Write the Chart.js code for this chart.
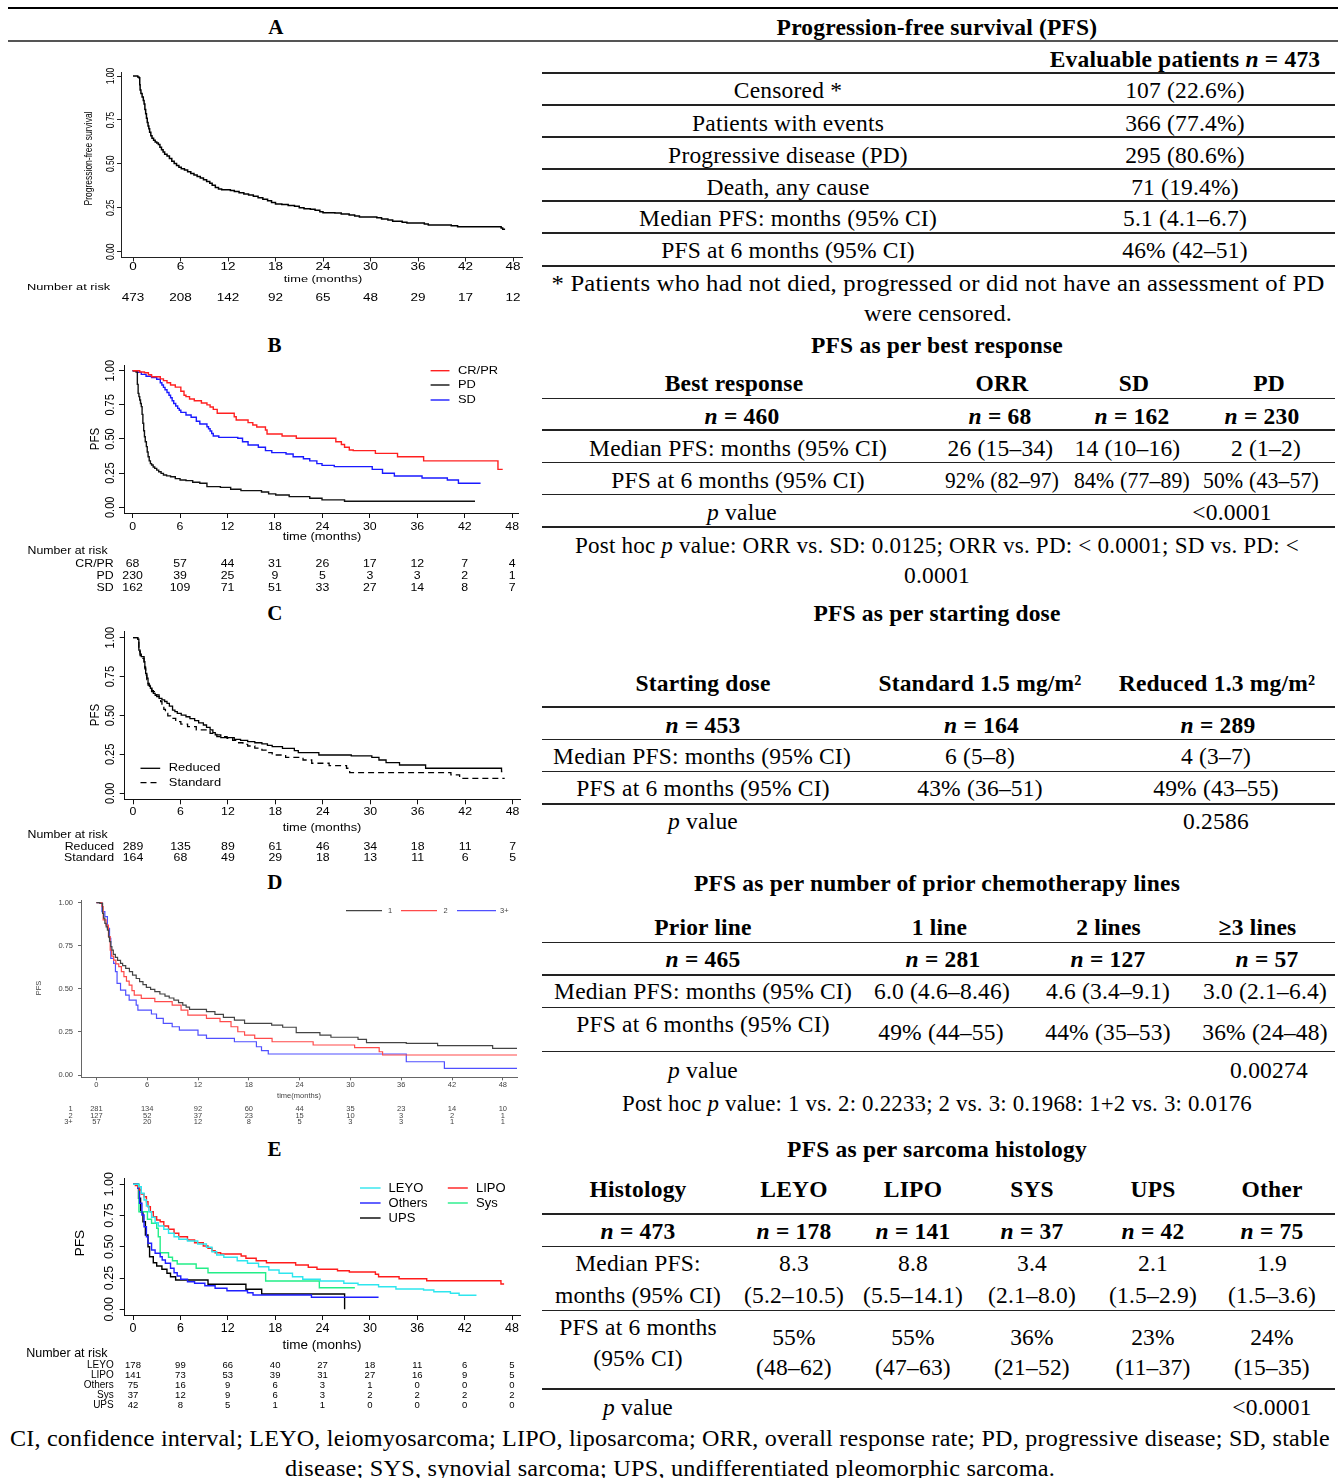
<!DOCTYPE html>
<html><head><meta charset="utf-8"><title>PFS</title>
<script src="https://cdn.jsdelivr.net/npm/chart.js@4.4.1/dist/chart.umd.min.js"></script>
<style>
html,body{margin:0;padding:0;background:#fff}
#page{position:relative;width:1338px;height:1478px;overflow:hidden;font-family:"Liberation Serif","Times New Roman",serif;color:#000}
.tx{position:absolute;white-space:nowrap;font-size:23.5px;line-height:30px;height:30px;letter-spacing:0.2px;transform:translateX(-50%)}
.tx.b{font-weight:bold}
.ln{position:absolute;background:#222}
canvas{position:absolute;left:0}
</style></head><body><div id="page"></div><script>
// ---------- shared ticks ----------
const months = [0,6,12,18,24,30,36,42,48];
const survTicks = [0,0.25,0.5,0.75,1];

// ---------- A: overall PFS ----------
const aCurve = [[0,1],[0.6,0.995],[0.75,0.99],[0.85,0.95],[0.9,0.92],[1.0,0.9],[1.15,0.88],[1.3,0.86],[1.4,0.84],[1.5,0.81],[1.6,0.785],[1.7,0.76],[1.8,0.735],[1.9,0.715],[2.0,0.7],[2.1,0.68],[2.25,0.66],[2.4,0.645],[2.6,0.635],[2.8,0.625],[3.0,0.618],[3.2,0.61],[3.4,0.595],[3.6,0.58],[3.8,0.568],[4.0,0.555],[4.3,0.545],[4.6,0.53],[4.9,0.515],[5.2,0.502],[5.5,0.49],[5.8,0.48],[6.1,0.472],[6.5,0.465],[6.9,0.455],[7.3,0.445],[7.7,0.437],[8.1,0.428],[8.5,0.42],[8.9,0.41],[9.3,0.4],[9.7,0.39],[10.0,0.378],[10.4,0.366],[10.8,0.357],[11.2,0.352],[12.3,0.348],[12.8,0.342],[13.4,0.335],[14.0,0.328],[14.6,0.322],[15.2,0.315],[15.8,0.307],[16.4,0.298],[17.0,0.29],[17.5,0.28],[18.0,0.272],[18.8,0.268],[19.6,0.263],[20.4,0.258],[21.0,0.25],[21.6,0.245],[22.4,0.241],[23.0,0.236],[23.6,0.228],[24.0,0.222],[25.5,0.22],[26.3,0.214],[27.3,0.209],[28.0,0.203],[28.6,0.198],[30.8,0.193],[31.4,0.186],[32.2,0.18],[32.8,0.174],[34.0,0.168],[34.6,0.164],[36.8,0.158],[37.3,0.152],[40.2,0.148],[41.0,0.142],[46.5,0.135],[46.7,0.128],[47.0,0.128]];
const aRisk = [473,208,142,92,65,48,29,17,12];

// ---------- B: best response ----------
const bCrpr = [[0,1],[0.9,0.99],[1.5,0.985],[2.0,0.97],[2.4,0.956],[3.5,0.94],[3.9,0.927],[4.35,0.912],[4.8,0.895],[5.4,0.88],[6.1,0.85],[6.5,0.82],[6.75,0.81],[7.2,0.793],[7.8,0.78],[8.7,0.763],[9.4,0.75],[9.8,0.734],[10.2,0.717],[10.7,0.688],[12.85,0.663],[13.1,0.639],[14.6,0.62],[15.2,0.602],[15.7,0.588],[16.8,0.566],[17.0,0.537],[18.9,0.522],[20.7,0.505],[25.7,0.48],[26.4,0.46],[26.8,0.44],[27.4,0.42],[27.9,0.415],[30.7,0.395],[33.5,0.37],[36.8,0.34],[46.2,0.278],[46.8,0.278]];
const bPd = [[0,1],[0.44,0.99],[0.6,0.9],[0.7,0.834],[0.8,0.81],[0.9,0.785],[1.0,0.76],[1.1,0.737],[1.2,0.68],[1.3,0.615],[1.4,0.56],[1.5,0.517],[1.6,0.48],[1.74,0.444],[1.85,0.405],[1.96,0.37],[2.1,0.34],[2.25,0.32],[2.4,0.31],[2.6,0.295],[2.8,0.285],[3.05,0.272],[3.3,0.26],[3.6,0.248],[3.9,0.237],[4.3,0.23],[4.8,0.224],[5.4,0.21],[6.0,0.2],[6.75,0.195],[7.6,0.183],[8.5,0.176],[9.4,0.151],[11.1,0.146],[12.4,0.132],[13.7,0.122],[16.3,0.112],[17.2,0.098],[18.1,0.09],[19.8,0.078],[22.4,0.066],[23.95,0.054],[26.8,0.044],[43.3,0.044]];
const bSd = [[0,1],[0.65,0.988],[1.1,0.973],[1.7,0.959],[2.4,0.95],[3.05,0.937],[3.5,0.912],[3.7,0.895],[3.9,0.878],[4.1,0.86],[4.35,0.84],[4.6,0.82],[4.8,0.802],[5.0,0.78],[5.2,0.76],[5.45,0.742],[5.7,0.724],[5.9,0.71],[6.1,0.695],[6.75,0.676],[7.4,0.659],[8.06,0.63],[8.5,0.61],[9.4,0.59],[9.6,0.575],[9.8,0.559],[10.0,0.54],[10.2,0.522],[10.9,0.512],[13.3,0.505],[13.9,0.48],[14.6,0.456],[15.9,0.44],[16.8,0.415],[17.6,0.4],[19.4,0.39],[20.3,0.37],[21.6,0.355],[22.4,0.34],[23.3,0.32],[23.95,0.307],[25.5,0.298],[30.3,0.278],[31.6,0.249],[33.1,0.229],[36.6,0.215],[39.8,0.2],[41.2,0.176],[44.0,0.176]];
const bRiskCrpr = [68,57,44,31,26,17,12,7,4];
const bRiskPd = [230,39,25,9,5,3,3,2,1];
const bRiskSd = [162,109,71,51,33,27,14,8,7];

// ---------- C: starting dose ----------
const cReduced = [[0,1],[0.6,0.99],[0.74,0.92],[0.9,0.895],[1.05,0.878],[1.4,0.846],[1.5,0.81],[1.6,0.77],[1.75,0.74],[1.9,0.707],[2.05,0.69],[2.2,0.675],[2.4,0.66],[2.57,0.642],[2.8,0.63],[3.0,0.621],[3.3,0.61],[3.66,0.6],[4.0,0.59],[4.3,0.578],[4.6,0.56],[5.0,0.535],[5.3,0.525],[5.6,0.514],[6.1,0.503],[6.7,0.492],[7.2,0.48],[7.8,0.467],[8.3,0.453],[8.9,0.439],[9.3,0.424],[9.75,0.407],[10.1,0.39],[10.4,0.375],[11.1,0.358],[12.8,0.347],[13.6,0.34],[14.5,0.332],[15.4,0.325],[16.3,0.317],[17.0,0.308],[17.6,0.3],[18.9,0.289],[20.4,0.274],[20.9,0.261],[23.5,0.246],[27.6,0.24],[30.2,0.231],[31.1,0.214],[32.0,0.197],[33.7,0.182],[37.0,0.161],[46.6,0.14],[46.7,0.14]];
const cStandard = [[0,1],[0.6,0.99],[0.74,0.91],[0.9,0.885],[1.05,0.867],[1.4,0.835],[1.5,0.8],[1.6,0.76],[1.75,0.73],[1.9,0.696],[2.1,0.675],[2.35,0.653],[2.7,0.64],[3.0,0.632],[3.3,0.621],[3.5,0.59],[3.66,0.567],[3.9,0.54],[4.1,0.514],[4.4,0.498],[4.75,0.482],[5.4,0.46],[6.05,0.445],[6.9,0.428],[8.0,0.407],[9.75,0.385],[10.6,0.364],[11.9,0.353],[12.6,0.34],[13.2,0.325],[13.9,0.315],[14.5,0.304],[15.4,0.29],[16.3,0.278],[17.0,0.262],[17.6,0.246],[19.3,0.231],[21.5,0.214],[22.6,0.193],[24.8,0.178],[27.0,0.161],[27.4,0.133],[40.2,0.118],[41.3,0.096],[47.0,0.096]];
const cRiskReduced = [289,135,89,61,46,34,18,11,7];
const cRiskStandard = [164,68,49,29,18,13,11,6,5];

// ---------- D: prior lines ----------
const dLine1 = [[0,1],[0.4,0.996],[0.73,0.938],[0.85,0.91],[1.0,0.88],[1.15,0.86],[1.3,0.841],[1.45,0.8],[1.55,0.774],[1.7,0.745],[1.83,0.725],[2.0,0.7],[2.24,0.683],[2.5,0.665],[2.85,0.648],[3.1,0.635],[3.46,0.619],[3.9,0.6],[4.27,0.58],[4.7,0.56],[5.1,0.542],[5.5,0.525],[5.9,0.509],[6.4,0.497],[6.9,0.484],[7.5,0.47],[8.1,0.458],[8.6,0.447],[9.15,0.435],[9.7,0.42],[10.2,0.406],[10.6,0.394],[11.0,0.381],[13.0,0.368],[14.0,0.352],[15.0,0.335],[16.3,0.319],[17.5,0.3],[20.7,0.29],[22.0,0.277],[23.6,0.246],[26.4,0.232],[27.7,0.219],[30.9,0.207],[31.9,0.188],[36.6,0.184],[40.3,0.17],[46.8,0.155],[49.7,0.155]];
const dLine2 = [[0,1],[0.65,0.977],[0.8,0.9],[1.14,0.87],[1.42,0.803],[1.63,0.725],[1.8,0.69],[2.03,0.667],[2.3,0.645],[2.64,0.629],[2.95,0.6],[3.25,0.571],[3.55,0.545],[3.87,0.522],[4.2,0.49],[4.47,0.464],[5.3,0.445],[6.9,0.426],[8.95,0.406],[10.0,0.377],[10.8,0.348],[13.0,0.329],[14.6,0.31],[15.9,0.28],[16.7,0.251],[17.5,0.232],[18.7,0.213],[20.75,0.193],[25.6,0.174],[30.5,0.159],[33.4,0.135],[33.8,0.116],[49.7,0.116]];
const dLine3 = [[0,1],[0.65,0.948],[1.0,0.919],[1.3,0.851],[1.55,0.793],[1.7,0.677],[2.03,0.648],[2.25,0.6],[2.44,0.532],[2.85,0.493],[3.46,0.464],[3.87,0.435],[4.7,0.406],[4.9,0.377],[6.5,0.354],[7.1,0.329],[7.9,0.3],[8.95,0.28],[9.8,0.261],[12.0,0.232],[13.0,0.213],[16.3,0.193],[18.9,0.164],[19.5,0.141],[20.3,0.122],[36.6,0.077],[41.1,0.039],[49.7,0.039]];
const dRisk1 = [281,134,92,60,44,35,23,14,10];
const dRisk2 = [127,52,37,23,15,10,3,2,1];
const dRisk3 = [57,20,12,8,5,3,3,1,1];

// ---------- E: histology ----------
const eLeyo = [[0,1],[0.7,0.98],[1.05,0.928],[1.4,0.875],[1.7,0.827],[2.0,0.781],[2.35,0.736],[2.8,0.693],[3.2,0.667],[3.9,0.64],[4.5,0.608],[5.2,0.581],[5.8,0.56],[6.9,0.547],[8.2,0.523],[9.3,0.496],[10.0,0.461],[10.6,0.435],[11.5,0.416],[13.2,0.389],[14.5,0.368],[15.9,0.341],[17.2,0.315],[18.5,0.288],[20.2,0.261],[21.5,0.24],[23.7,0.227],[26.7,0.208],[28.5,0.197],[31.1,0.181],[33.3,0.163],[36.8,0.155],[38.1,0.141],[40.2,0.128],[41.3,0.112],[43.5,0.112]];
const eLipo = [[0,1],[0.3,0.99],[0.6,0.98],[0.83,0.955],[1.05,0.923],[1.4,0.9],[1.7,0.861],[1.9,0.821],[2.2,0.78],[2.57,0.741],[3.0,0.715],[3.44,0.701],[3.9,0.667],[4.5,0.64],[5.2,0.608],[5.8,0.581],[6.9,0.555],[7.8,0.533],[8.9,0.507],[9.5,0.488],[10.0,0.469],[10.4,0.453],[11.1,0.443],[13.7,0.427],[14.3,0.408],[15.6,0.389],[16.9,0.373],[20.6,0.355],[22.2,0.336],[23.3,0.32],[25.9,0.309],[27.4,0.299],[30.7,0.28],[31.1,0.261],[33.7,0.245],[37.2,0.229],[46.6,0.203],[47.0,0.203]];
const eOthers = [[0,1],[0.6,0.968],[0.83,0.848],[1.13,0.755],[1.4,0.661],[1.7,0.581],[1.9,0.528],[2.35,0.475],[2.8,0.448],[3.44,0.421],[3.7,0.395],[4.1,0.368],[4.75,0.328],[5.2,0.293],[5.6,0.267],[6.05,0.24],[6.9,0.221],[7.8,0.208],[9.1,0.189],[10.4,0.168],[11.9,0.149],[14.5,0.133],[15.2,0.115],[22.6,0.096],[31.1,0.096]];
const eSys = [[0,1],[0.75,0.781],[1.83,0.72],[2.35,0.688],[3.0,0.648],[3.2,0.581],[3.44,0.453],[4.5,0.416],[5.0,0.389],[5.6,0.363],[8.0,0.328],[9.5,0.293],[16.8,0.227],[23.6,0.173],[28.1,0.173]];
const eUps = [[0,1],[0.7,0.888],[0.96,0.781],[1.26,0.701],[1.57,0.595],[1.9,0.501],[2.1,0.421],[2.57,0.373],[3.0,0.347],[3.66,0.32],[4.3,0.288],[4.75,0.261],[5.4,0.235],[9.5,0.2],[14.3,0.16],[16.3,0.123],[26.8,0]];
const eRiskLeyo = [178,99,66,40,27,18,11,6,5];
const eRiskLipo = [141,73,53,39,31,27,16,9,5];
const eRiskOthers = [75,16,9,6,3,1,0,0,0];
const eRiskSys = [37,12,9,6,3,2,2,2,2];
const eRiskUps = [42,8,5,1,1,0,0,0,0];

// ---------- page helpers ----------
const page = document.getElementById('page');
function T(x, y, html, bold, size, fitW) {
  const d = document.createElement('div');
  d.className = 'tx' + (bold ? ' b' : '');
  d.style.left = x + 'px'; d.style.top = (y - 15) + 'px';
  if (size) d.style.fontSize = size + 'px';
  d.innerHTML = html; page.appendChild(d);
  if (fitW) {
    const w = d.getBoundingClientRect().width;
    if (w > 0) d.style.transform = 'translateX(-50%) scaleX(' + (fitW / w).toFixed(4) + ')';
  }
}
function R(y, x1, x2, h, c) {
  const d = document.createElement('div'); d.className = 'ln';
  d.style.left = x1 + 'px'; d.style.width = (x2 - x1) + 'px';
  d.style.top = (y - h / 2) + 'px'; d.style.height = h + 'px';
  if (c) d.style.background = c;
  page.appendChild(d);
}

// ---------- tables ----------
R(8, 8, 1338, 2.6, '#000');
R(41, 8, 1338, 1.4, '#555');
T(276, 26.7, 'A', true, 21);
T(937, 26.7, 'Progression-free survival (PFS)', true);
T(1185, 58.7, 'Evaluable patients <i>n</i> = 473', true);
const tabA = [['Censored *','107 (22.6%)'],['Patients with events','366 (77.4%)'],['Progressive disease (PD)','295 (80.6%)'],['Death, any cause','71 (19.4%)'],['Median PFS: months (95% CI)','5.1 (4.1–6.7)'],['PFS at 6 months (95% CI)','46% (42–51)']];
[90,122.7,154.7,186.7,218.3,250].forEach((y,i)=>{T(788,y,tabA[i][0]);T(1185,y,tabA[i][1]);});
[73,105,137,169,201,233].forEach(y=>R(y,542,1335,1.2));
R(266,542,1335,2.2);
T(937.5, 283.3, '* Patients who had not died, progressed or did not have an assessment of PD', false, 0, 773);
T(937.5, 313.3, 'were censored.', false, 0, 148);

// B
T(274.7, 345, 'B', true, 21);
T(937, 345, 'PFS as per best response', true);
const tabB = [
  {y:383.3, b:true, c:['Best response','ORR','SD','PD'], x:[734,1002,1134,1269]},
  {y:415.5, b:true, c:['<i>n</i> = 460','<i>n</i> = 68','<i>n</i> = 162','<i>n</i> = 230'], x:[742,1000,1132,1262]},
  {y:447.5, c:['Median PFS: months (95% CI)','26 (15–34)','14 (10–16)','2 (1–2)'], x:[738,1000.5,1127.5,1266]},
  {y:479.5, c:['PFS at 6 months (95% CI)','92% (82–97)','84% (77–89)','50% (43–57)'], x:[738,1002,1132,1261], w:[0,114,116,116]},
  {y:511.5, c:['<i>p</i> value','','','&lt;0.0001'], x:[742,0,0,1232]}
];
tabB.forEach(r=>r.c.forEach((t,i)=>{ if(t) T(r.x[i], r.y, t, r.b, 0, r.w ? r.w[i] : 0); }));
[398.3,430,462.3,494.3].forEach(y=>R(y,542,1335,1.2));
R(526.7,542,1335,2.2);
T(937, 544.5, 'Post hoc <i>p</i> value: ORR vs. SD: 0.0125; ORR vs. PD: &lt; 0.0001; SD vs. PD: &lt;', false, 0, 724);
T(937, 574.5, '0.0001');

// C
T(275, 613.3, 'C', true, 21);
T(937, 613.3, 'PFS as per starting dose', true);
const tabC = [
  {y:683.3, b:true, c:['Starting dose','Standard 1.5 mg/m²','Reduced 1.3 mg/m²'], x:[703,980,1217]},
  {y:724.5, b:true, c:['<i>n</i> = 453','<i>n</i> = 164','<i>n</i> = 289'], x:[703,981.5,1218]},
  {y:756, c:['Median PFS: months (95% CI)','6 (5–8)','4 (3–7)'], x:[702,980,1216]},
  {y:788.3, c:['PFS at 6 months (95% CI)','43% (36–51)','49% (43–55)'], x:[703,980,1216]},
  {y:820.5, c:['<i>p</i> value','','0.2586'], x:[703,0,1216]}
];
tabC.forEach(r=>r.c.forEach((t,i)=>{ if(t) T(r.x[i], r.y, t, r.b); }));
[707,739.3,771.7,804].forEach(y=>R(y,542,1335,1.2));

// D
T(275, 881.7, 'D', true, 21);
T(937, 882.7, 'PFS as per number of prior chemotherapy lines', true);
const tabD = [
  {y:926.7, b:true, c:['Prior line','1 line','2 lines','≥3 lines'], x:[703,939.5,1108.5,1257.5]},
  {y:958.5, b:true, c:['<i>n</i> = 465','<i>n</i> = 281','<i>n</i> = 127','<i>n</i> = 57'], x:[703,943,1108,1267]},
  {y:990.5, c:['Median PFS: months (95% CI)','6.0 (4.6–8.46)','4.6 (3.4–9.1)','3.0 (2.1–6.4)'], x:[703,942,1108,1265]},
  {y:1024, c:['PFS at 6 months (95% CI)','','',''], x:[703,0,0,0]},
  {y:1031.7, c:['','49% (44–55)','44% (35–53)','36% (24–48)'], x:[0,941,1108,1265]},
  {y:1070, c:['<i>p</i> value','','','0.00274'], x:[703,0,0,1269]}
];
tabD.forEach(r=>r.c.forEach((t,i)=>{ if(t) T(r.x[i], r.y, t, r.b); }));
[942.7,975,1007.3,1051.7].forEach(y=>R(y,542,1335,1.2));
T(937, 1102.5, 'Post hoc <i>p</i> value: 1 vs. 2: 0.2233; 2 vs. 3: 0.1968: 1+2 vs. 3: 0.0176', false, 0, 630);

// E
T(274.5, 1149, 'E', true, 21);
T(937, 1148.5, 'PFS as per sarcoma histology', true);
const colE = [638,794,913,1032,1153,1272];
const tabE = [
  {y:1189, b:true, c:['Histology','LEYO','LIPO','SYS','UPS','Other']},
  {y:1231, b:true, c:['<i>n</i> = 473','<i>n</i> = 178','<i>n</i> = 141','<i>n</i> = 37','<i>n</i> = 42','<i>n</i> = 75']},
  {y:1263.3, c:['Median PFS:','8.3','8.8','3.4','2.1','1.9']},
  {y:1295, c:['months (95% CI)','(5.2–10.5)','(5.5–14.1)','(2.1–8.0)','(1.5–2.9)','(1.5–3.6)']},
  {y:1326.7, c:['PFS at 6 months','','','','','']},
  {y:1358.3, c:['(95% CI)','','','','','']},
  {y:1336.7, c:['','55%','55%','36%','23%','24%']},
  {y:1366.7, c:['','(48–62)','(47–63)','(21–52)','(11–37)','(15–35)']},
  {y:1406.7, c:['<i>p</i> value','','','','','&lt;0.0001']}
];
tabE.forEach(r=>r.c.forEach((t,i)=>{ if(t) T(colE[i], r.y, t, r.b); }));
[1214,1246.7,1310.3].forEach(y=>R(y,542,1335,1.2));
R(1389,542,1335,2.2);
T(670, 1438, 'CI, confidence interval; LEYO, leiomyosarcoma; LIPO, liposarcoma; ORR, overall response rate; PD, progressive disease; SD, stable', false, 0, 1320);
T(670, 1468, 'disease; SYS, synovial sarcoma; UPS, undifferentiated pleomorphic sarcoma.', false, 0, 770);

// ---------- KM charts ----------
function decor(c) {
  return { id: 'decor', afterDraw(chart) {
    const ctx = chart.ctx, xs = chart.scales.x, ys = chart.scales.y, oy = c.top;
    function put(text, x, y, font, align, rot, color) {
      ctx.save(); ctx.translate(x, y - oy); ctx.scale(c.sx || 1, 1); if (rot) ctx.rotate(-Math.PI / 2);
      ctx.font = font; ctx.fillStyle = color || c.textColor || '#000';
      ctx.textAlign = align || 'center'; ctx.textBaseline = 'middle';
      ctx.fillText(text, 0, 0); ctx.restore();
    }
    xs.ticks.forEach(t => put(String(t.value), xs.getPixelForValue(t.value), c.xTickY, c.tickFont));
    ys.ticks.forEach(t => put(t.value.toFixed(2), c.yTickX, ys.getPixelForValue(t.value) + oy, c.yTickFont || c.tickFont, c.yTickRot ? 'center' : 'right', c.yTickRot));
    if (c.xTitle) put(c.xTitle.text, c.xTitle.x, c.xTitle.y, c.xTitle.font);
    if (c.yTitle) put(c.yTitle.text, c.yTitle.x, c.yTitle.y, c.yTitle.font, 'center', true);
    (c.legend || []).forEach(it => {
      const ds = chart.data.datasets[it.ds];
      ctx.save(); ctx.strokeStyle = ds.borderColor; ctx.lineWidth = ds.borderWidth; ctx.setLineDash(ds.borderDash || []);
      ctx.beginPath(); ctx.moveTo(it.x1, it.y - oy); ctx.lineTo(it.x2, it.y - oy); ctx.stroke(); ctx.restore();
      put(ds.label, it.tx, it.y, c.legendFont, 'left');
    });
    if (c.risk) {
      const r = c.risk;
      if (r.title) put(r.title.text, r.title.x, r.title.y, r.title.font, 'left');
      r.rows.forEach(row => {
        if (row.label) put(row.label, r.labelX, row.y, r.labelFont || r.font, 'right');
        row.values.forEach((v, i) => put(String(v), xs.getPixelForValue(months[i]), row.y, r.font));
      });
    }
  }};
}
function km(c) {
  const cv = document.createElement('canvas');
  cv.width = 540; cv.height = c.height;
  cv.style.top = c.top + 'px'; cv.style.width = '540px'; cv.style.height = c.height + 'px';
  page.appendChild(cv);
  const g = c.geom;
  const pxM = (g.x48 - g.x0) / 48, pxU = (g.y0 - g.y1);
  const xmin = -(g.x0 - g.L) / pxM, xmax = 48 + (g.R - g.x48) / pxM;
  const ymin = -(g.B - g.y0) / pxU, ymax = 1 + (g.y1 - g.T) / pxU;
  const axis = c.axisColor || '#000';
  const gridOpt = { display: true, drawOnChartArea: false, drawTicks: true, tickLength: c.tickLen, color: axis, lineWidth: 1 };
  new Chart(cv, {
    type: 'line',
    data: { datasets: c.series.map(s => ({
      label: s.label, data: s.data.map(p => ({ x: p[0], y: p[1] })),
      borderColor: s.color, borderWidth: s.width || c.lineWidth || 1.4, borderDash: s.dash || [],
      stepped: 'before', pointRadius: 0, pointHoverRadius: 0, fill: false, tension: 0 })) },
    options: {
      responsive: false, animation: false, events: [],
      layout: { padding: { left: g.L, right: 540 - g.R, top: g.T - c.top, bottom: c.top + c.height - g.B } },
      plugins: { legend: { display: false }, tooltip: { enabled: false } },
      scales: {
        x: { type: 'linear', min: xmin, max: xmax,
             afterBuildTicks: s => { s.ticks = months.map(v => ({ value: v })); },
             afterFit: s => { s.height = 0; },
             ticks: { display: false }, grid: gridOpt, border: { display: true, color: axis, width: 1 } },
        y: { type: 'linear', min: ymin, max: ymax,
             afterBuildTicks: s => { s.ticks = survTicks.map(v => ({ value: v })); },
             afterFit: s => { s.width = 0; },
             ticks: { display: false }, grid: gridOpt, border: { display: true, color: axis, width: 1 } }
      }
    },
    plugins: [decor(c)]
  });
}

const SANS = '"Liberation Sans", Arial, sans-serif';
// A
km({ top: 48, height: 262, sx: 1.35,
  geom: { L: 121, R: 522, T: 72, B: 257.5, x0: 133, x48: 513, y1: 76, y0: 251.7 },
  tickLen: 4, axisColor: '#222', lineWidth: 1.5,
  series: [{ label: 'PFS', data: aCurve, color: '#000' }],
  tickFont: '10px ' + SANS, xTickY: 267.7, yTickX: 111, yTickRot: true, yTickFont: '8.5px ' + SANS,
  xTitle: { text: 'time (months)', x: 323, y: 279, font: '9.5px ' + SANS },
  yTitle: { text: 'Progression-free survival', x: 88.5, y: 158.5, font: '8.5px ' + SANS },
  risk: { title: { text: 'Number at risk', x: 26.9, y: 287, font: '9.5px ' + SANS }, font: '10px ' + SANS, labelX: 110,
    rows: [{ label: '', values: aRisk, y: 298 }] }
});
// B
km({ top: 358, height: 240, sx: 1.12,
  geom: { L: 124, R: 518.5, T: 365, B: 513, x0: 132.6, x48: 512.2, y1: 370.7, y0: 507.3 },
  tickLen: 5, axisColor: '#111', lineWidth: 1.4,
  series: [{ label: 'CR/PR', data: bCrpr, color: '#ff2020' }, { label: 'PD', data: bPd, color: '#111' }, { label: 'SD', data: bSd, color: '#1a1aff' }],
  tickFont: '11px ' + SANS, xTickY: 527, yTickX: 111, yTickRot: true,
  xTitle: { text: 'time (months)', x: 322, y: 537.3, font: '11.5px ' + SANS },
  yTitle: { text: 'PFS', x: 95.8, y: 439, font: '11.5px ' + SANS },
  legendFont: '11.5px ' + SANS,
  legend: [{ ds: 0, x1: 430.6, x2: 449.5, tx: 458, y: 370.7 }, { ds: 1, x1: 430.6, x2: 449.5, tx: 458, y: 385 }, { ds: 2, x1: 430.6, x2: 449.5, tx: 458, y: 400 }],
  risk: { title: { text: 'Number at risk', x: 27.5, y: 551, font: '11px ' + SANS }, font: '11px ' + SANS, labelX: 113.7,
    rows: [{ label: 'CR/PR', values: bRiskCrpr, y: 564 }, { label: 'PD', values: bRiskPd, y: 576 }, { label: 'SD', values: bRiskSd, y: 588 }] }
});
// C
km({ top: 626, height: 240, sx: 1.12,
  geom: { L: 124.7, R: 520, T: 631.7, B: 799.3, x0: 133, x48: 512.6, y1: 637.7, y0: 793.3 },
  tickLen: 5, axisColor: '#111', lineWidth: 1.3,
  series: [{ label: 'Reduced', data: cReduced, color: '#000' }, { label: 'Standard', data: cStandard, color: '#000', dash: [6, 4] }],
  tickFont: '11px ' + SANS, xTickY: 812, yTickX: 111, yTickRot: true,
  xTitle: { text: 'time (months)', x: 322, y: 827.7, font: '11.5px ' + SANS },
  yTitle: { text: 'PFS', x: 95.5, y: 715, font: '11.5px ' + SANS },
  legendFont: '11.5px ' + SANS,
  legend: [{ ds: 0, x1: 140.5, x2: 160.2, tx: 168.8, y: 768.3 }, { ds: 1, x1: 140.5, x2: 160.2, tx: 168.8, y: 782.7 }],
  risk: { title: { text: 'Number at risk', x: 27.5, y: 835, font: '11px ' + SANS }, font: '11px ' + SANS, labelX: 114,
    rows: [{ label: 'Reduced', values: cRiskReduced, y: 846.7 }, { label: 'Standard', values: cRiskStandard, y: 857.7 }] }
});
// D
km({ top: 894, height: 240, textColor: '#444',
  geom: { L: 81, R: 517, T: 900.7, B: 1077.3, x0: 96.4, x48: 502.8, y1: 902.7, y0: 1075 },
  tickLen: 3, axisColor: '#666', lineWidth: 1.2,
  series: [{ label: '1', data: dLine1, color: '#444' }, { label: '2', data: dLine2, color: '#ff4a4a' }, { label: '3+', data: dLine3, color: '#5050ff' }],
  tickFont: '7.5px ' + SANS, xTickY: 1085, yTickX: 73, yTickRot: false,
  xTitle: { text: 'time(months)', x: 299, y: 1096, font: '7.5px ' + SANS },
  yTitle: { text: 'PFS', x: 38.6, y: 988, font: '7.5px ' + SANS },
  legendFont: '7.5px ' + SANS,
  legend: [{ ds: 0, x1: 346, x2: 382, tx: 388, y: 910.7 }, { ds: 1, x1: 401, x2: 437, tx: 443.5, y: 910.7 }, { ds: 2, x1: 457, x2: 496, tx: 500, y: 910.7 }],
  risk: { font: '7.5px ' + SANS, labelX: 72.7,
    rows: [{ label: '1', values: dRisk1, y: 1109 }, { label: '2', values: dRisk2, y: 1116 }, { label: '3+', values: dRisk3, y: 1122.3 }] }
});
// E
km({ top: 1162, height: 250,
  geom: { L: 124.7, R: 520, T: 1178, B: 1315, x0: 133, x48: 512, y1: 1184.3, y0: 1309.3 },
  tickLen: 5, axisColor: '#111', lineWidth: 1.4,
  series: [{ label: 'LEYO', data: eLeyo, color: '#2ee6ee' }, { label: 'LIPO', data: eLipo, color: '#ff1c1c' }, { label: 'Others', data: eOthers, color: '#1f1fff' },
           { label: 'Sys', data: eSys, color: '#22ee88' }, { label: 'UPS', data: eUps, color: '#000' }],
  tickFont: '12.5px ' + SANS, xTickY: 1328.7, yTickX: 110, yTickRot: true,
  xTitle: { text: 'time (monhs)', x: 322, y: 1345, font: '13.5px ' + SANS },
  yTitle: { text: 'PFS', x: 80, y: 1243, font: '13.5px ' + SANS },
  legendFont: '13px ' + SANS,
  legend: [{ ds: 0, x1: 360, x2: 380.6, tx: 388.6, y: 1188 }, { ds: 1, x1: 447.8, x2: 467.8, tx: 476, y: 1188 },
           { ds: 2, x1: 360, x2: 380.6, tx: 388.6, y: 1203 }, { ds: 3, x1: 447.8, x2: 467.8, tx: 476, y: 1203 },
           { ds: 4, x1: 360, x2: 380.6, tx: 388.6, y: 1218 }],
  risk: { title: { text: 'Number at risk', x: 26.2, y: 1353.3, font: '12.5px ' + SANS }, font: '9.5px ' + SANS, labelFont: '10px ' + SANS, labelX: 113.7,
    rows: [{ label: 'LEYO', values: eRiskLeyo, y: 1365.3 }, { label: 'LIPO', values: eRiskLipo, y: 1375.3 }, { label: 'Others', values: eRiskOthers, y: 1385.3 },
           { label: 'Sys', values: eRiskSys, y: 1395.3 }, { label: 'UPS', values: eRiskUps, y: 1405.3 }] }
});
</script></body></html>
